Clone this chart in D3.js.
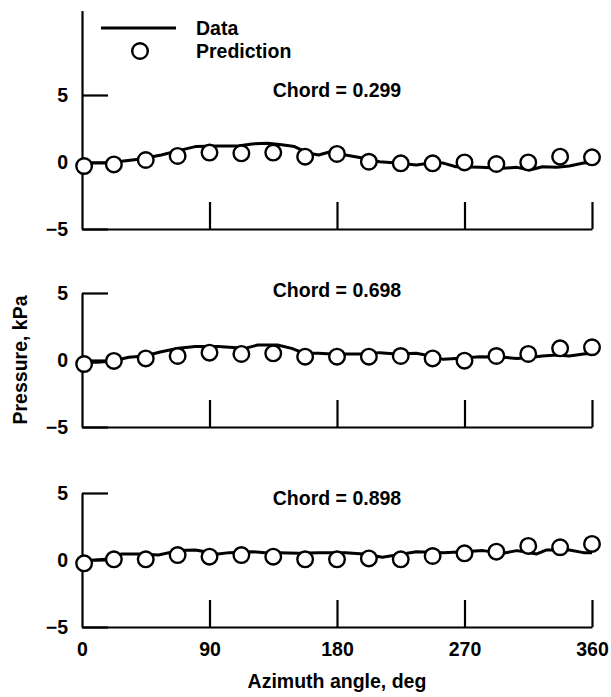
<!DOCTYPE html>
<html>
<head>
<meta charset="utf-8">
<script src="https://cdn.jsdelivr.net/npm/d3@7"></script>
<style>
body { margin: 0; background: #fff; }
svg text { font-family: "Liberation Sans", Arial, Helvetica, sans-serif; font-weight: bold; font-size: 19.5px; fill: #000; }
</style>
</head>
<body>
<svg id="chart" width="611" height="697"></svg>
<script>
// chord labels
var chords = ["0.299", "0.698", "0.898"];
var xTicks = [0, 90, 180, 270, 360];
var yTicks = [-5, 0, 5];

// measured data (line), azimuth deg / pressure kPa
var dataAz1 = [0,16,28,40,56,68,80,96,110,120,131,141,150,160,167,176,183,186,199,210,222,236,246,255,264,281,297,307,316,325,335,344,354,360];
var dataP1 = [-0.07,-0.07,0.05,0.2,0.52,0.85,1.15,1.2,1.2,1.35,1.4,1.28,1.15,0.65,0.52,0.78,0.65,0.52,0.28,0.02,-0.08,-0.22,-0.08,-0.08,-0.35,-0.4,-0.47,-0.4,-0.6,-0.35,-0.4,-0.3,-0.08,-0.03];
var dataAz2 = [0,11,22,33,44,56,68,80,96,115,124,138,148,157,167,176,186,199,210,222,236,246,255,264,281,297,307,318,325,335,344,354,360];
var dataP2 = [-0.17,-0.17,-0.07,0.2,0.3,0.62,0.87,1.0,1.0,0.87,1.12,1.12,0.87,0.5,0.5,0.45,0.45,0.45,0.55,0.45,0.5,0.3,0.05,0.12,0.25,0.2,0.12,0.2,0.3,0.37,0.3,0.45,0.5];
var dataAz3 = [0,17,28,40,54,68,80,96,104,120,129,139,153,167,180,186,199,212,222,236,255,269,283,297,307,321,328,344,354,360];
var dataP3 = [-0.05,0.05,0.45,0.45,0.37,0.7,0.75,0.45,0.55,0.62,0.55,0.55,0.5,0.55,0.55,0.55,0.45,0.2,0.37,0.62,0.55,0.62,0.7,0.5,0.7,0.45,0.75,0.75,0.55,0.55];

// prediction (circles)
var predAz = [1.5,22.5,45,67.5,90,112.5,135,157.5,180,202.5,225,247.5,270,292.5,315,337.5,360];
var predP1 = [-0.3,-0.18,0.15,0.45,0.7,0.65,0.7,0.4,0.6,0.02,-0.1,-0.1,-0.03,-0.15,-0.03,0.4,0.35];
var predP2 = [-0.3,-0.07,0.12,0.3,0.55,0.45,0.5,0.25,0.25,0.25,0.3,0.12,-0.05,0.3,0.45,0.87,0.95];
var predP3 = [-0.25,0.05,0.05,0.37,0.25,0.37,0.25,0.05,0.05,0.12,0.05,0.3,0.5,0.62,1.05,0.95,1.2];

var panels = [
 {chord: chords[0], top: 11.3, bottom: 229, az: dataAz1, p: dataP1, pp: predP1, labY: 97},
 {chord: chords[1], top: 5, bottom: 427, az: dataAz2, p: dataP2, pp: predP2, labY: 297},
 {chord: chords[2], top: 5, bottom: 627, az: dataAz3, p: dataP3, pp: predP3, labY: 505}
];

var svg = d3.select("#chart");
var x = d3.scaleLinear().domain([0, 360]).range([82, 592]);
var unit = 13.4;

panels.forEach(function(pn, i) {
 var y = d3.scaleLinear().domain([-5, pn.top]).range([pn.bottom, pn.bottom - (pn.top + 5) * unit]);
 var g = svg.append("g");

 var xa = d3.axisBottom(x).tickValues(xTicks).tickSizeInner(-27).tickSizeOuter(0).tickPadding(15);
 if (i < 2) xa.tickFormat("");
 var gx = g.append("g").attr("transform", "translate(0," + pn.bottom + ")").call(xa);
 gx.selectAll("path, line").attr("stroke", "#000").attr("stroke-width", 2.2);
 gx.selectAll(".tick").filter(function(d) { return d === 0; }).select("line").remove();
 gx.selectAll("text").style("font-size", "19.5px");

 var ya = d3.axisLeft(y).tickValues(yTicks).tickSizeInner(-26).tickSizeOuter(0).tickPadding(14)
  .tickFormat(function(d) { return d < 0 ? "\u2212" + Math.abs(d) : d; });
 var gy = g.append("g").attr("transform", "translate(82,0)").call(ya);
 gy.selectAll("path, line").attr("stroke", "#000").attr("stroke-width", 2.2);
 gy.selectAll("text").style("font-size", "19.5px");

 var pts = pn.az.map(function(a, k) { return [a, pn.p[k]]; });
 g.append("path").datum(pts)
  .attr("fill", "none").attr("stroke", "#000").attr("stroke-width", 3).attr("stroke-linejoin", "round")
  .attr("d", d3.line().x(function(d) { return x(d[0]); }).y(function(d) { return y(d[1]); }));

 g.selectAll("circle").data(predAz).enter().append("circle")
  .attr("cx", function(d) { return x(d); })
  .attr("cy", function(d, k) { return y(pn.pp[k]); })
  .attr("r", 7.8).attr("fill", "#fff").attr("stroke", "#000").attr("stroke-width", 2.4);

 g.append("text").attr("x", 337).attr("y", pn.labY).attr("text-anchor", "middle").text("Chord = " + pn.chord);
});

// legend
svg.append("line").attr("x1", 101).attr("x2", 176).attr("y1", 28).attr("y2", 28).attr("stroke", "#000").attr("stroke-width", 3);
svg.append("circle").attr("cx", 140).attr("cy", 51).attr("r", 7.8).attr("fill", "#fff").attr("stroke", "#000").attr("stroke-width", 2.4);
svg.append("text").attr("x", 196).attr("y", 35).text("Data");
svg.append("text").attr("x", 196).attr("y", 58).text("Prediction");

// axis titles
svg.append("text").attr("x", 337).attr("y", 688).attr("text-anchor", "middle").text("Azimuth angle, deg");
svg.append("text").attr("transform", "translate(27,360) rotate(-90)").attr("text-anchor", "middle").text("Pressure, kPa");
</script>
</body>
</html>
